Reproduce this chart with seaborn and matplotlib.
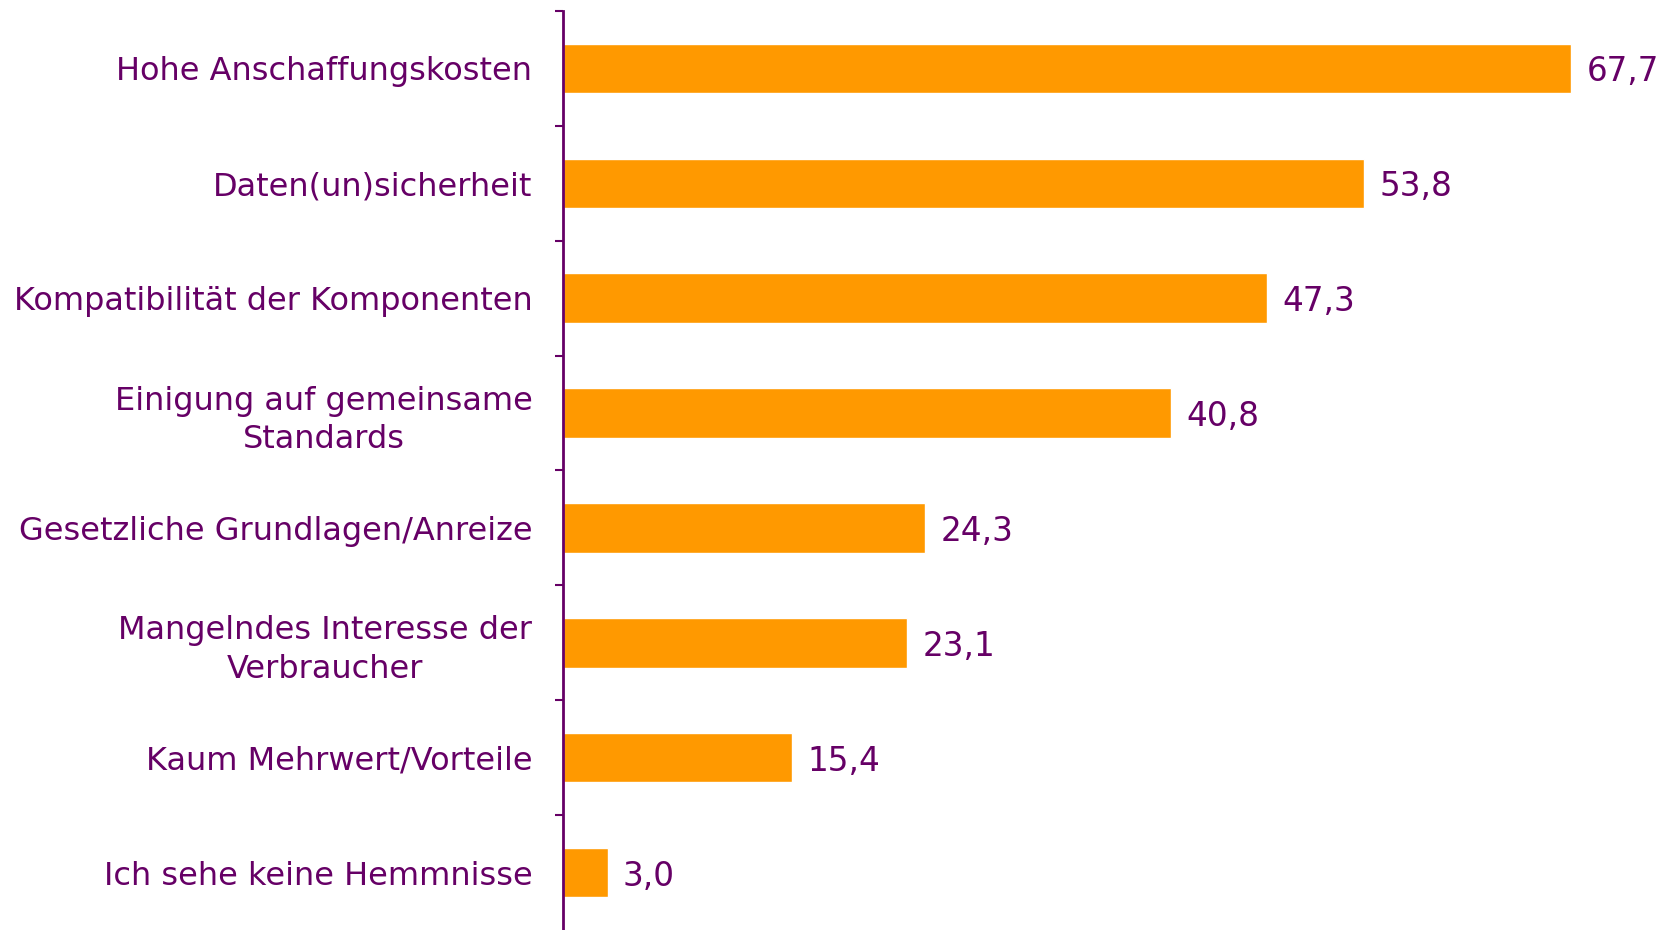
import matplotlib
matplotlib.use("Agg")
import matplotlib.pyplot as plt
import seaborn as sns
import pandas as pd

categories = [
    "Hohe Anschaffungskosten",
    "Daten(un)sicherheit",
    "Kompatibilität der Komponenten",
    "Einigung auf gemeinsame\nStandards",
    "Gesetzliche Grundlagen/Anreize",
    "Mangelndes Interesse der\nVerbraucher",
    "Kaum Mehrwert/Vorteile",
    "Ich sehe keine Hemmnisse",
]
values = [67.7, 53.8, 47.3, 40.8, 24.3, 23.1, 15.4, 3.0]

PURPLE = "#660066"
ORANGE = "#FF9900"

sns.set_theme(style="white")
plt.rcParams["font.family"] = ["DejaVu Sans"]

df = pd.DataFrame({"cat": categories, "val": values})

fig = plt.figure(figsize=(16.68, 9.30), dpi=100)
ax = fig.add_axes([563 / 1668, 0.0, 1 - 563 / 1668, 1 - 11 / 930])

sns.barplot(data=df, x="val", y="cat", orient="h", color=ORANGE,
            saturation=1, width=0.43, ax=ax)

ax.set_xlim(0, 74.2)
ax.set_ylim(len(categories) - 0.5, -0.5)
ax.set_xlabel("")
ax.set_ylabel("")
ax.set_xticks([])

for s in ["top", "right", "bottom"]:
    ax.spines[s].set_visible(False)
ax.spines["left"].set_color(PURPLE)
ax.spines["left"].set_linewidth(2)

# ticks at category boundaries
ax.set_yticks([i - 0.5 for i in range(len(categories))], minor=True)
ax.tick_params(axis="y", which="minor", length=6, width=1.5, color=PURPLE, left=True)
ax.tick_params(axis="y", which="major", length=0, pad=22, labelsize=23, labelcolor=PURPLE)
for lbl in ax.get_yticklabels():
    lbl.set_multialignment("center")
    lbl.set_linespacing(1.3)

for i, v in enumerate(values):
    ax.annotate(f"{v:.1f}".replace(".", ","), xy=(v, i), xytext=(11, -2.5),
                textcoords="offset points", va="center", ha="left",
                fontsize=23.5, color=PURPLE)

fig.savefig("out.png", dpi=100)
